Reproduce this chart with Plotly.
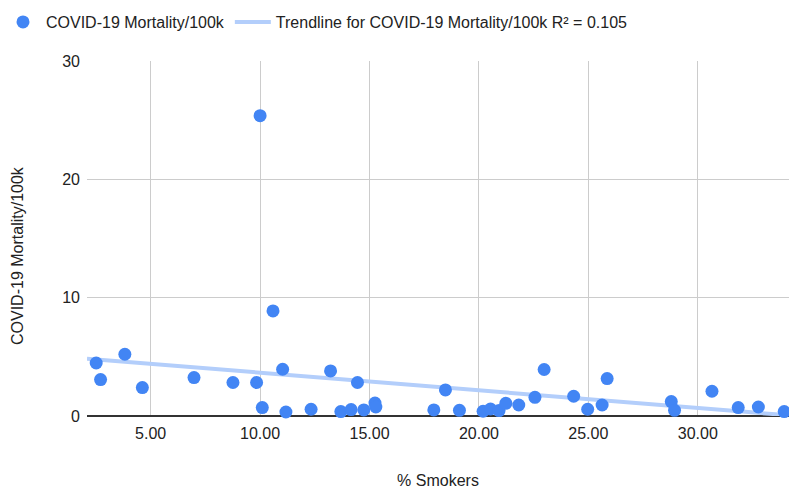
import plotly.graph_objects as go

smokers_pct = [2.51, 2.71, 3.82, 4.62, 6.98, 8.76, 9.84, 10.00, 10.10, 10.59,
               11.03, 11.18, 12.33, 13.22, 13.69, 14.16, 14.45, 14.74, 15.25, 15.29,
               17.94, 18.47, 19.11, 20.19, 20.53, 20.92, 21.23, 21.82, 22.56, 22.98,
               24.33, 24.97, 25.63, 25.86, 28.79, 28.94, 30.65, 31.85, 32.77, 33.95]
mortality = [4.48, 3.08, 5.22, 2.40, 3.25, 2.83, 2.83, 25.38, 0.71, 8.88,
             3.95, 0.34, 0.57, 3.81, 0.37, 0.54, 2.83, 0.51, 1.10, 0.76,
             0.51, 2.20, 0.48, 0.40, 0.59, 0.46, 1.07, 0.93, 1.58, 3.93,
             1.67, 0.57, 0.93, 3.16, 1.22, 0.48, 2.09, 0.71, 0.76, 0.37]

trend_intercept = 5.15
trend_slope = -0.149
x_range = [2.09, 34.17]
x_ticks = [5, 10, 15, 20, 25, 30]
y_ticks = [0, 10, 20, 30]

trend_x = x_range
trend_y = [trend_intercept + trend_slope * v for v in trend_x]

font = "Liberation Sans, Arial, sans-serif"
fig = go.Figure()
fig.add_trace(go.Scatter(
    x=trend_x, y=trend_y, mode="lines",
    name="Trendline for COVID-19 Mortality/100k R² = 0.105",
    line=dict(color="#b3cefb", width=4),
))
fig.add_trace(go.Scatter(
    x=smokers_pct, y=mortality, mode="markers",
    name="COVID-19 Mortality/100k",
    marker=dict(color="#4285F4", size=13, line=dict(width=0)),
    cliponaxis=False,
))
fig.update_layout(
    width=789, height=489,
    margin=dict(l=87, r=0, t=61, b=73, autoexpand=False),
    paper_bgcolor="white", plot_bgcolor="white",
    font=dict(family=font, size=16, color="#222222"),
    showlegend=True,
    legend=dict(orientation="h", xref="container", yref="container",
                x=-0.0266, xanchor="left", y=1 - 5 / 489, yanchor="top",
                itemwidth=36,
                font=dict(size=16, color="#222222"), traceorder="reversed",
                bgcolor="rgba(0,0,0,0)"),
    xaxis=dict(range=x_range, tickvals=x_ticks, tickformat=".2f",
               showgrid=True, gridcolor="#cccccc", gridwidth=1,
               zeroline=False, showline=False, ticks="", ticklabelstandoff=6,
               tickfont=dict(size=16, color="#222222"),
               title=dict(text="% Smokers", font=dict(size=16, color="#222222"), standoff=38)),
    yaxis=dict(range=[0, 30], tickvals=y_ticks,
               showgrid=True, gridcolor="#cccccc", gridwidth=1,
               zeroline=True, zerolinecolor="#333333", zerolinewidth=2,
               showline=False, ticks="", ticklabelstandoff=6,
               tickfont=dict(size=16, color="#222222")),
    annotations=[dict(text="COVID-19 Mortality/100k", textangle=-90,
                      xref="paper", yref="paper", x=0, xshift=-70, y=0.4507,
                      xanchor="center", yanchor="middle", showarrow=False,
                      font=dict(size=16, color="#222222"))],
)
fig.write_html("out.html", config={"displayModeBar": False},
               post_script="document.body.style.margin='0';document.body.style.overflow='hidden';")
